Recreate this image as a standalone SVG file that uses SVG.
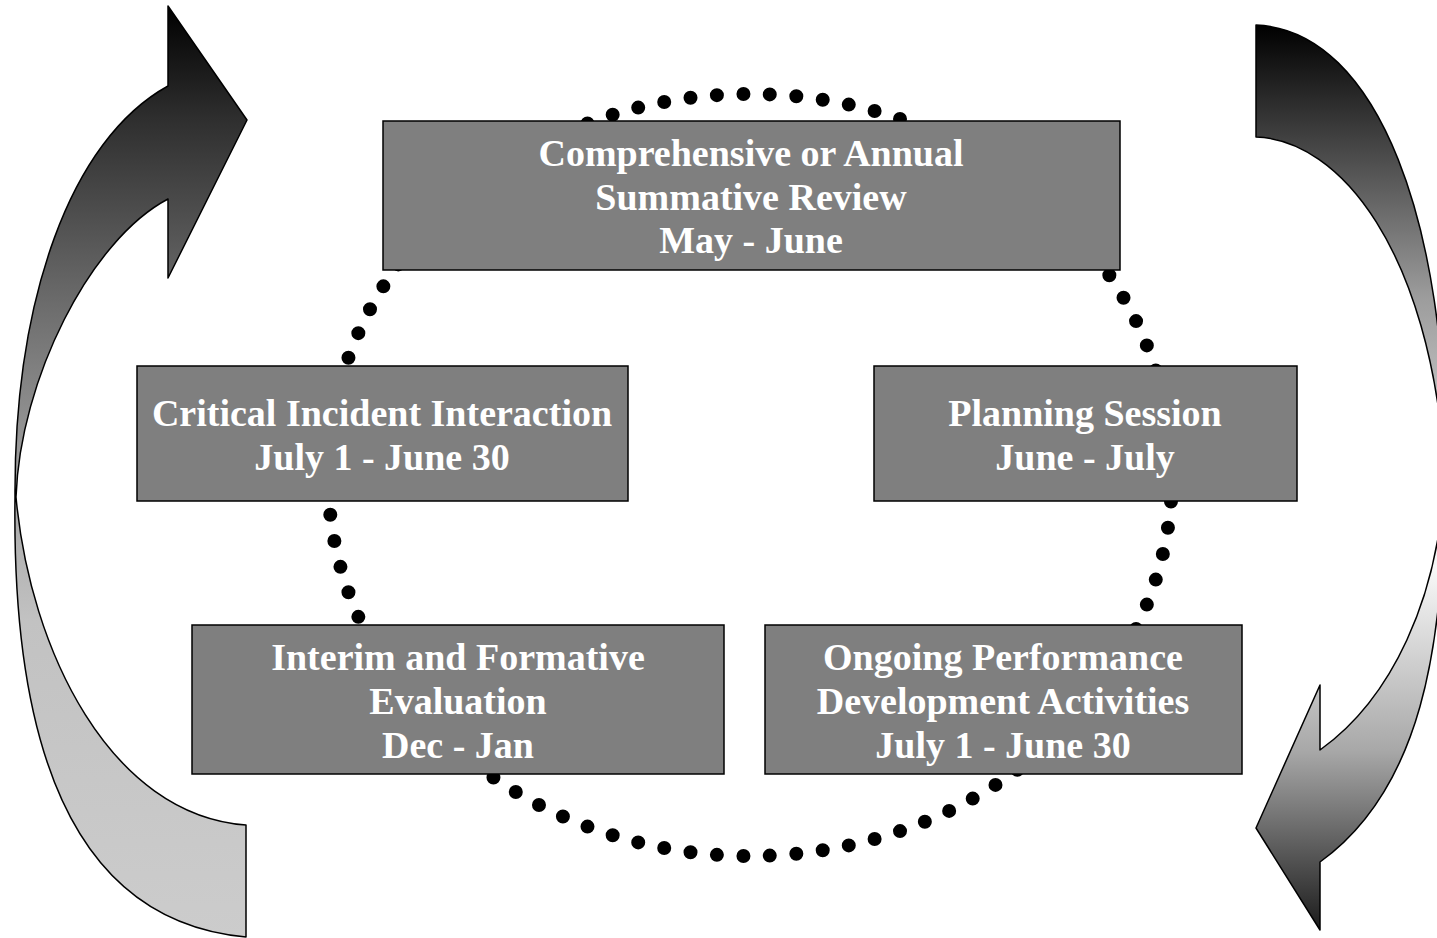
<svg xmlns="http://www.w3.org/2000/svg" width="1437" height="938" viewBox="0 0 1437 938">
<defs>
<linearGradient id="gl" gradientUnits="userSpaceOnUse" x1="0" y1="6" x2="0" y2="938">
<stop offset="0" stop-color="#000"/>
<stop offset="0.12" stop-color="#2e2e2e"/>
<stop offset="0.32" stop-color="#6c6c6c"/>
<stop offset="0.53" stop-color="#a8a8a8"/>
<stop offset="0.66" stop-color="#c2c2c2"/>
<stop offset="1" stop-color="#cccccc"/>
</linearGradient>
<linearGradient id="gr" gradientUnits="userSpaceOnUse" x1="0" y1="25" x2="0" y2="932">
<stop offset="0" stop-color="#000"/>
<stop offset="0.3" stop-color="#9c9c9c"/>
<stop offset="0.6" stop-color="#f8f8f8"/>
<stop offset="0.8" stop-color="#a8a8a8"/>
<stop offset="1" stop-color="#1a1a1a"/>
</linearGradient>
<style>
.box{fill:#7f7f7f;stroke:#000;stroke-width:1.5}
.arrow{stroke:#000;stroke-width:1.5;stroke-linejoin:round}
.t{font-family:"Liberation Serif","Times New Roman",serif;font-weight:bold;font-size:38px;fill:#fff;text-anchor:middle}
</style>
</defs>
<rect width="1437" height="938" fill="#fff"/>
<g id="arrows">
<path id="arrow-left" class="arrow" fill="url(#gl)" d="M168,86 L168,6 L247,120 L168,278 L168,199 C 90,240 20,380 16,497 C 30,650 110,815 246,825 L246,937 C 60,920 12,720 15,497 C 14,300 70,140 168,86 Z"/>
<path id="arrow-right" class="arrow" fill="url(#gr)" d="M1256,25 C 1380,30 1448,230 1445,470 C 1445,650 1420,790 1320,862 L1320,930 L1256,828 L1320,685 L1320,750 C 1390,700 1440,600 1445,470 C 1430,250 1340,140 1256,137 Z"/>
</g>
<g id="connectors">
<ellipse cx="750" cy="475" rx="422" ry="381" fill="none" stroke="#000" stroke-width="14" stroke-linecap="round" stroke-dasharray="0 1" pathLength="95"/>
</g>
<g id="node-summative">
<rect class="box" x="383" y="121" width="737" height="149"/>
<text class="t" x="751" y="166">Comprehensive or Annual</text>
<text class="t" x="751" y="210">Summative Review</text>
<text class="t" x="751" y="253">May - June</text>
</g>
<g id="node-critical">
<rect class="box" x="137" y="366" width="491" height="135"/>
<text class="t" x="382" y="426">Critical Incident Interaction</text>
<text class="t" x="382" y="470">July 1 - June 30</text>
</g>
<g id="node-planning">
<rect class="box" x="874" y="366" width="423" height="135"/>
<text class="t" x="1085" y="426">Planning Session</text>
<text class="t" x="1085" y="470">June - July</text>
</g>
<g id="node-interim">
<rect class="box" x="192" y="625" width="532" height="149"/>
<text class="t" x="458" y="670">Interim and Formative</text>
<text class="t" x="458" y="714">Evaluation</text>
<text class="t" x="458" y="758">Dec - Jan</text>
</g>
<g id="node-ongoing">
<rect class="box" x="765" y="625" width="477" height="149"/>
<text class="t" x="1003" y="670">Ongoing Performance</text>
<text class="t" x="1003" y="714">Development Activities</text>
<text class="t" x="1003" y="758">July 1 - June 30</text>
</g>
</svg>
